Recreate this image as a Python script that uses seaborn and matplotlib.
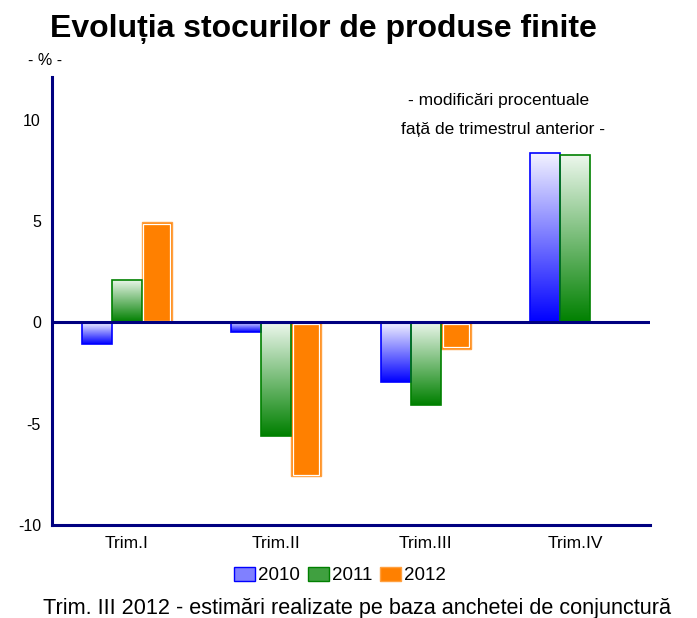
import numpy as np
import pandas as pd
import matplotlib
matplotlib.use("Agg")
import matplotlib.pyplot as plt
from matplotlib.colors import LinearSegmentedColormap
from matplotlib.patches import Patch, Rectangle
import seaborn as sns

# Data
quarters = ["Trim.I", "Trim.II", "Trim.III", "Trim.IV"]
years = ["2010", "2011", "2012"]
v2010 = [-1.05, -0.5, -2.95, 8.35]
v2011 = [2.1, -5.6, -4.1, 8.25]
v2012 = [4.95, -7.6, -1.3, np.nan]
yticks = [-10, -5, 0, 5, 10]

NAVY = "#000080"
EDGE = {"2010": "#0000ff", "2011": "#008000", "2012": "#ff8000"}
GRAD = {"2010": ("#f4f4ff", "#0000ff"), "2011": ("#eef8ee", "#008000")}

sns.set_style("white")
plt.rcParams["font.family"] = ["Liberation Sans", "DejaVu Sans"]
plt.rcParams["text.color"] = "black"
plt.rcParams["xtick.color"] = "black"
plt.rcParams["ytick.color"] = "black"

df = pd.DataFrame({
    "trim": quarters * 3,
    "an": [y for y in years for _ in quarters],
    "val": v2010 + v2011 + v2012,
})

fig = plt.figure(figsize=(6.97, 6.18), dpi=100)
ax = fig.add_axes([0.0746, 0.1505, 0.858, 0.725])

sns.barplot(data=df, x="trim", y="val", hue="an", order=quarters, hue_order=years,
            palette=EDGE, width=0.6, ax=ax, legend=False, saturation=1)

# vertical gradient fill: light at the top, full colour at the bottom
grad = np.linspace(0, 1, 256).reshape(-1, 1)
for year, cont in zip(years, ax.containers):
    for p in cont.patches:
        x, y0 = p.get_x(), p.get_y()
        w, h = p.get_width(), p.get_height()
        if np.isnan(h) or h == 0:
            continue
        lo, hi = min(y0, y0 + h), max(y0, y0 + h)
        if year in GRAD:
            cmap = LinearSegmentedColormap.from_list(year, GRAD[year])
            p.set_facecolor("none")
            p.set_edgecolor(EDGE[year])
            p.set_linewidth(1.2)
            im = ax.imshow(grad, extent=[x, x + w, lo, hi], cmap=cmap, aspect="auto",
                           zorder=1.5, origin="upper")
            im.set_clip_path(p)
            p.set_zorder(2)
        else:
            p.set_facecolor(EDGE[year])
            p.set_edgecolor("#ffa040")
            p.set_linewidth(1.0)
            ins = Rectangle((x + w * 0.06, lo + 0.08), w * 0.88, hi - lo - 0.16,
                            fill=False, edgecolor="white", linewidth=0.9, zorder=2.1)
            ax.add_patch(ins)

ax.axhline(0, color=NAVY, linewidth=2.2, zorder=3)
ax.set_xlim(-0.5, 3.5)
ax.set_ylim(-10, 12.1)
ax.set_yticks(yticks)
ax.set_yticklabels([str(t) for t in yticks], fontsize=11.5)
ax.set_xticks(range(len(quarters)))
ax.set_xticklabels(quarters, fontsize=12.5)
ax.tick_params(axis="both", length=0, pad=8)
ax.set_xlabel("")
ax.set_ylabel("")
for s in ["top", "right"]:
    ax.spines[s].set_visible(False)
for s in ["left", "bottom"]:
    ax.spines[s].set_color(NAVY)
    ax.spines[s].set_linewidth(2.2)

fig.text(0.072, 0.953, "Evoluția stocurilor de produse finite", fontsize=23,
         fontweight="bold", ha="left", va="center")
fig.text(0.065, 0.902, "- % -", fontsize=11.5, ha="center", va="center")
fig.text(0.715, 0.838, "- modificări procentuale", fontsize=12.5, ha="center", va="center")
fig.text(0.722, 0.791, "față de trimestrul anterior -", fontsize=12.5, ha="center", va="center")

handles = [Patch(facecolor="#8080ff", edgecolor="#0000ff"),
           Patch(facecolor="#40a040", edgecolor="#008000"),
           Patch(facecolor="#ff8000", edgecolor="#ffa040")]
fig.legend(handles, years, loc="center", bbox_to_anchor=(0.488, 0.069), ncol=3,
           frameon=False, fontsize=13.5, handlelength=1.1, handleheight=0.8,
           handletextpad=0.15, columnspacing=0.45)

fig.text(0.062, 0.016, "Trim. III 2012 - estimări realizate pe baza anchetei de conjunctură",
         fontsize=15.6, ha="left", va="center")

fig.savefig("out.png", dpi=100)
